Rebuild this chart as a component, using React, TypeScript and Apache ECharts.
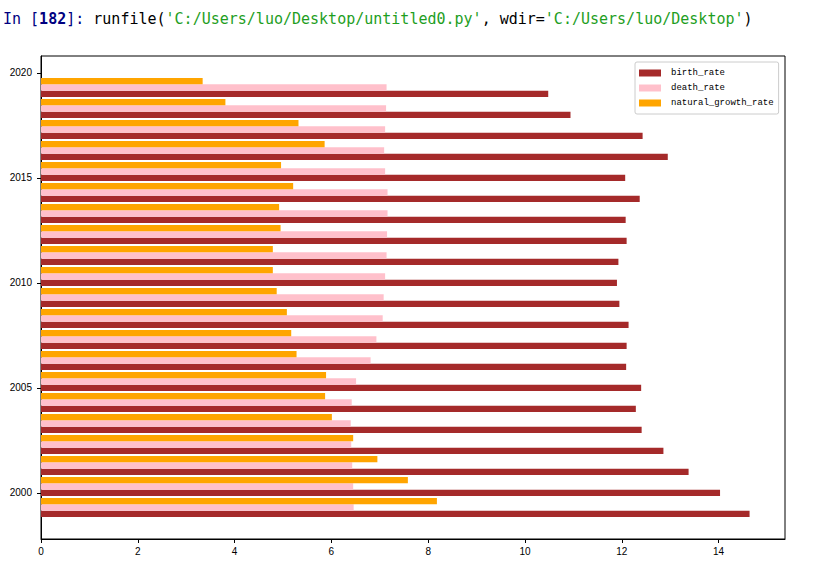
import React, { useEffect, useRef } from "react";
import * as echarts from "echarts";

const years = [1999, 2000, 2001, 2002, 2003, 2004, 2005, 2006, 2007, 2008, 2009, 2010, 2011, 2012, 2013, 2014, 2015, 2016, 2017, 2018, 2019];
const birthRate = [14.64, 14.03, 13.38, 12.86, 12.41, 12.29, 12.40, 12.09, 12.10, 12.14, 11.95, 11.90, 11.93, 12.10, 12.08, 12.37, 12.07, 12.95, 12.43, 10.94, 10.48];
const deathRate = [6.46, 6.45, 6.43, 6.41, 6.40, 6.42, 6.51, 6.81, 6.93, 7.06, 7.08, 7.11, 7.14, 7.15, 7.16, 7.16, 7.11, 7.09, 7.11, 7.13, 7.14];
const naturalGrowthRate = [8.18, 7.58, 6.95, 6.45, 6.01, 5.87, 5.89, 5.28, 5.17, 5.08, 4.87, 4.79, 4.79, 4.95, 4.92, 5.21, 4.96, 5.86, 5.32, 3.81, 3.34];
const yTickLabels = [2000, 2005, 2010, 2015, 2020];
const xTickLabels = [0, 2, 4, 6, 8, 10, 12, 14];
const seriesNames = ["birth_rate", "death_rate", "natural_growth_rate"];

const COLORS = ["#a52a2a", "#ffc0cb", "#ffa500"];
const BAR_H = 0.3;
const OFFSETS = [0, 0.3, 0.6];

export default function App() {
  const ref = useRef<HTMLDivElement>(null);
  useEffect(() => {
    document.body.style.margin = "0";
    const chart = echarts.init(ref.current!, null, { renderer: "svg" });
    const valueSets = [birthRate, deathRate, naturalGrowthRate];
    const series = seriesNames.map((name, si) => ({
      name,
      type: "custom",
      itemStyle: { color: COLORS[si] },
      encode: { x: 0, y: 1 },
      data: years.map((yr, i) => [valueSets[si][i], yr + OFFSETS[si]]),
      renderItem: (params: any, api: any) => {
        const v = api.value(0);
        const y = api.value(1);
        const s = api.coord([0, y]);
        const e = api.coord([v, y]);
        const h = api.size([0, BAR_H])[1];
        return {
          type: "rect",
          shape: { x: s[0], y: s[1] - h / 2, width: e[0] - s[0], height: h },
          style: { fill: COLORS[si] },
        };
      },
    }));
    chart.setOption({
      animation: false,
      backgroundColor: "#ffffff",
      graphic: [
        {
          type: "text",
          left: 3,
          top: 11,
          style: {
            text: "{p|In [}{n|182}{p|]: }{k|runfile(}{s|'C:/Users/luo/Desktop/untitled0.py'}{k|, wdir=}{s|'C:/Users/luo/Desktop'}{k|)}",
            fontFamily: "DejaVu Sans Mono",
            fontSize: 15,
            rich: {
              p: { fill: "#000080", fontFamily: "DejaVu Sans Mono", fontSize: 15 },
              n: { fill: "#000080", fontFamily: "DejaVu Sans Mono", fontSize: 15, fontWeight: "bold" },
              k: { fill: "#000000", fontFamily: "DejaVu Sans Mono", fontSize: 15 },
              s: { fill: "#1e9e1e", fontFamily: "DejaVu Sans Mono", fontSize: 15 },
            },
          },
        },
      ],
      grid: {
        left: 41,
        top: 56,
        width: 744,
        height: 483,
        show: true,
        borderColor: "#000",
        borderWidth: 1,
        backgroundColor: "transparent",
      },
      legend: {
        orient: "vertical",
        left: 635,
        top: 62,
        padding: [5, 5, 5, 4],
        itemGap: 3,
        itemWidth: 22,
        itemHeight: 7,
        borderColor: "#cccccc",
        borderWidth: 1,
        borderRadius: 2,
        backgroundColor: "rgba(255,255,255,0.8)",
        data: seriesNames.map((n) => ({ name: n, icon: "rect" })),
        textStyle: { fontFamily: "Liberation Mono", fontSize: 9, color: "#000", lineHeight: 12, padding: [0, 0, 0, 5] },
      },
      xAxis: {
        type: "value",
        min: 0,
        max: 15.372,
        interval: 2,
        splitLine: { show: false },
        axisLine: { show: true, lineStyle: { color: "#000" } },
        axisTick: { show: true, length: 4, lineStyle: { color: "#000" }, customValues: xTickLabels },
        axisLabel: {
          customValues: xTickLabels,
          formatter: (v: number) => String(v),
          color: "#000",
          fontFamily: "Liberation Sans",
          fontSize: 10,
          margin: 7,
        },
      },
      yAxis: {
        type: "value",
        min: 1997.8,
        max: 2020.8,
        splitLine: { show: false },
        axisLine: { show: true, lineStyle: { color: "#000" } },
        axisTick: { show: true, length: 4, lineStyle: { color: "#000" }, customValues: yTickLabels },
        axisLabel: {
          customValues: yTickLabels,
          formatter: (v: number) => String(v),
          color: "#000",
          fontFamily: "Liberation Sans",
          fontSize: 10,
          margin: 9,
        },
      },
      series,
    } as any);
    return () => chart.dispose();
  }, []);
  return <div ref={ref} style={{ width: 814, height: 573, position: "absolute", left: 0, top: 0 }} />;
}
